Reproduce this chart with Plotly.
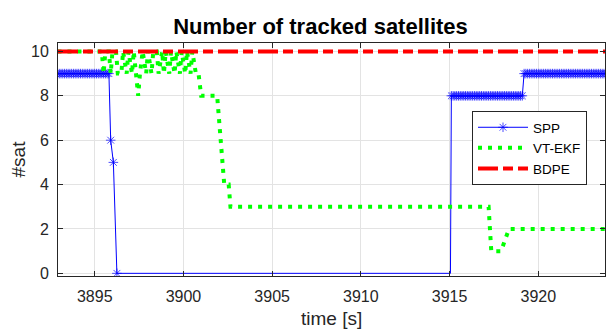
import numpy as np
import plotly.graph_objects as go

# ---------------- data ----------------
# SPP: sampled every 0.1 s where valid
spp_seg1_t = np.arange(3892.8, 3895.86, 0.1)
spp_seg1_v = [9] * len(spp_seg1_t)
spp_mid_t = [3895.9, 3896.05, 3896.25, 3915.05]
spp_mid_v = [6, 5, 0, 0]
spp_seg2_t = np.arange(3915.1, 3919.16, 0.1)
spp_seg2_v = [8] * len(spp_seg2_t)
spp_seg3_t = np.arange(3919.2, 3924.01, 0.1)
spp_seg3_v = [9] * len(spp_seg3_t)

spp_t = np.round(np.concatenate([spp_seg1_t, spp_mid_t, spp_seg2_t, spp_seg3_t]), 2)
spp_v = spp_seg1_v + spp_mid_v + spp_seg2_v + spp_seg3_v
spp_marker_size = [8] * len(spp_seg1_t) + [8, 8, 8, 0] + [8] * len(spp_seg2_t) + [8] * len(spp_seg3_t)

# VT-EKF
ekf_t = [3892.9, 3895.4, 3895.5, 3895.6, 3895.8, 3895.9, 3896.0, 3896.2, 3896.3, 3896.5,
         3896.6, 3896.8, 3896.9, 3897.1, 3897.2, 3897.3, 3897.45, 3897.55, 3897.7, 3897.9,
         3898.0, 3898.2, 3898.3, 3898.5, 3898.6, 3898.8, 3898.9, 3899.0, 3899.2, 3899.3,
         3899.5, 3899.6, 3899.8, 3899.9, 3900.1, 3900.2, 3900.4, 3900.5, 3900.7, 3900.85,
         3901.0, 3901.9, 3902.0, 3902.1, 3902.2, 3902.3, 3902.55, 3902.65, 3917.2, 3917.3,
         3917.35, 3917.9, 3918.35, 3924.0]
ekf_v = [10, 10, 9, 10, 10, 9, 10, 10, 9, 9,
         10, 9, 10, 9, 10, 9, 8, 9, 10, 9,
         10, 9, 10, 10, 9, 10, 9, 10, 9, 10,
         9, 10, 9, 10, 9, 10, 9, 10, 9, 9,
         8, 8, 7, 6, 5, 4, 4, 3, 3, 2,
         1, 1, 2, 2]

# BDPE
bdpe_t = [3892.93, 3924.0]
bdpe_v = [10, 10]

x_ticks = [3895, 3900, 3905, 3910, 3915, 3920]
y_ticks = [0, 2, 4, 6, 8, 10]

FONT = "Liberation Sans, Arial, sans-serif"
AX = "#262626"

fig = go.Figure()
fig.add_trace(go.Scatter(
    x=spp_t, y=spp_v, name="SPP", mode="lines+markers",
    line=dict(color="#0000ff", width=1),
    marker=dict(symbol="asterisk-open", size=spp_marker_size, color="#0000ff",
                line=dict(color="#0000ff", width=1)),
))
fig.add_trace(go.Scatter(
    x=ekf_t, y=ekf_v, name="VT-EKF", mode="lines",
    line=dict(color="#00ff00", width=4, dash="4px,6px"),
))
fig.add_trace(go.Scatter(
    x=bdpe_t, y=bdpe_v, name="BDPE", mode="lines",
    line=dict(color="#ff0000", width=4, dash="20px,5px,10px,5px"),
))

axis_common = dict(
    showline=True, linecolor=AX, linewidth=1, mirror="ticks",
    ticks="inside", ticklen=5, tickcolor=AX, tickwidth=1,
    showgrid=True, gridcolor="#e3e3e3", gridwidth=1, zeroline=False,
    tickfont=dict(family=FONT, size=16, color=AX),
)

fig.update_layout(
    width=606, height=329,
    margin=dict(l=58, r=1, t=43, b=53),
    paper_bgcolor="white", plot_bgcolor="white",
    title=dict(text="<b>Number of tracked satellites</b>", xref="container", x=320.5 / 606,
               xanchor="center", y=1 - 26 / 329, yanchor="middle",
               font=dict(family=FONT, size=22, color="black")),
    xaxis=dict(range=[3892.93, 3923.76], tickvals=x_ticks, ticklabelstandoff=6, **axis_common),
    yaxis=dict(range=[-0.12, 10.38], tickvals=y_ticks, ticklabelstandoff=5, **axis_common),
    legend=dict(x=(472 - 58) / 547, y=(276 - 111) / 233, xanchor="left", yanchor="top",
                bgcolor="white", bordercolor=AX, borderwidth=1,
                font=dict(family=FONT, size=13.5, color="black"),
                itemwidth=50, tracegroupgap=0),
    showlegend=True,
    annotations=[
        dict(text="time [s]", xref="paper", yref="paper", x=0.5, y=-(318 - 276) / 233,
             xanchor="center", yanchor="middle", showarrow=False,
             font=dict(family=FONT, size=19, color=AX)),
        dict(text="#sat", xref="paper", yref="paper", x=-(58 - 18) / 547, y=0.5,
             xanchor="center", yanchor="middle", showarrow=False, textangle=-90,
             font=dict(family=FONT, size=19, color=AX)),
    ],
)

fig.write_html("out.html", config={"displayModeBar": False},
               post_script="document.body.style.margin='0';document.body.style.padding='0';")
